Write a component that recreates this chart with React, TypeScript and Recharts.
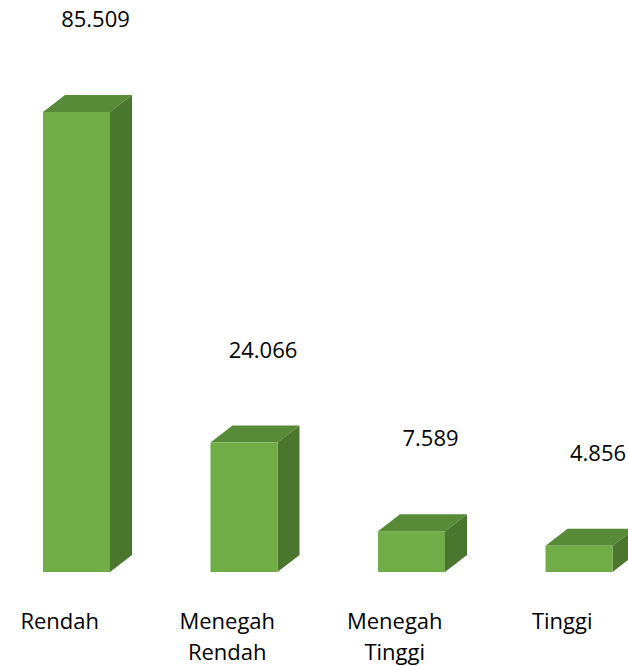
import { BarChart, Bar, XAxis, YAxis, LabelList } from "recharts"

const categories = ["Rendah", "Menegah Rendah", "Menegah Tinggi", "Tinggi"]
const values = [85.509, 24.066, 7.589, 4.856]
const valueLabels = ["85.509", "24.066", "7.589", "4.856"]

const data = categories.map((name, i) => ({ name, value: values[i], label: valueLabels[i] }))

const FRONT = "#70ad47"
const TOP = "#578b37"
const SIDE = "#4a762e"
const DX = 22
const DY = 17
const FONT = "'Open Sans', sans-serif"

function Box3D(props: any) {
  const { x, y, width, height } = props
  if (width == null || height == null) return null
  const r = x + width
  const b = y + height
  return (
    <g>
      <polygon
        points={`${x},${y} ${x + DX},${y - DY} ${r + DX},${y - DY} ${r},${y}`}
        fill={TOP}
      />
      <polygon
        points={`${r},${y} ${r + DX},${y - DY} ${r + DX},${b - DY} ${r},${b}`}
        fill={SIDE}
      />
      <rect x={x} y={y} width={width} height={height} fill={FRONT} />
    </g>
  )
}

function ValueLabel(props: any) {
  const { x, y, width, value } = props
  return (
    <text
      x={x + width / 2 + 19}
      y={y - 94}
      textAnchor="middle"
      dominantBaseline="central"
      fontFamily={FONT}
      fontSize={22}
      fill="#000"
    >
      {value}
    </text>
  )
}

function CategoryTick(props: any) {
  const { x, y, payload } = props
  const lines = String(payload.value).split(" ")
  return (
    <g>
      {lines.map((line, i) => (
        <text
          key={i}
          x={x - 17}
          y={y + 48 + i * 31}
          textAnchor="middle"
          dominantBaseline="central"
          fontFamily={FONT}
          fontSize={22}
          fill="#000"
        >
          {line}
        </text>
      ))}
    </g>
  )
}

export default function App() {
  return (
    <div
      style={{
        position: "fixed",
        left: 0,
        top: 0,
        width: 628,
        height: 666,
        overflow: "hidden",
        background: "#fff"
      }}
    >
      <div style={{ marginLeft: -7 }}>
        <BarChart
          width={670}
          height={666}
          data={data}
          margin={{ top: 34, right: 0, bottom: 0, left: 0 }}
          barSize={67}
        >
          <XAxis
            dataKey="name"
            height={94}
            axisLine={false}
            tickLine={false}
            tickSize={0}
            tickMargin={0}
            interval={0}
            tick={<CategoryTick />}
          />
          <YAxis hide domain={[0, 100]} />
          <Bar dataKey="value" shape={<Box3D />} isAnimationActive={false}>
            <LabelList dataKey="label" content={<ValueLabel />} />
          </Bar>
        </BarChart>
      </div>
    </div>
  )
}
